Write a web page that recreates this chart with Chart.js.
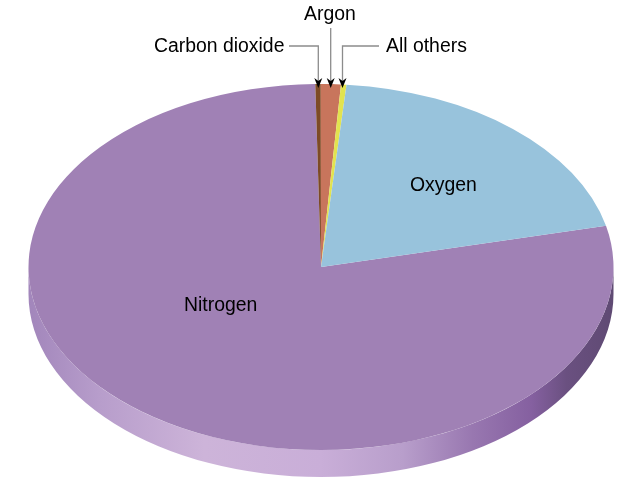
<!DOCTYPE html>
<html>
<head>
<meta charset="utf-8">
<style>
  html, body { margin: 0; padding: 0; background: #fff; }
  canvas { display: block; }
</style>
<script src="https://cdn.jsdelivr.net/npm/chart.js@4/dist/chart.umd.min.js"></script>
</head>
<body>
<canvas id="mycanvas" width="640" height="480"></canvas>
<script>
var categories = ['Nitrogen', 'Carbon dioxide', 'Argon', 'All others', 'Oxygen'];
var shares = [78.3, 0.3, 1.1, 0.3, 20.0];
var colors = ['#a081b5', '#7d4b25', '#c8755c', '#e2e34f', '#98c3dc'];

// the pie is squashed into an ellipse and given a rim
var cx = 321, cy = 267, rx = 292.5, ry = 183, depth = 27;

function drawRim(ctx) {
  var g = ctx.createLinearGradient(cx - rx, 0, cx + rx, 0);
  g.addColorStop(0, '#a286bb');
  g.addColorStop(0.12, '#b79dcb');
  g.addColorStop(0.3, '#cdb4d9');
  g.addColorStop(0.5, '#c9aed8');
  g.addColorStop(0.64, '#b89ecb');
  g.addColorStop(0.76, '#9877b0');
  g.addColorStop(0.86, '#8560a0');
  g.addColorStop(0.92, '#6a5080');
  g.addColorStop(1, '#5f4a73');
  ctx.beginPath();
  ctx.ellipse(cx, cy + depth, rx, ry, 0, 0, Math.PI);
  ctx.lineTo(cx - rx, cy);
  ctx.ellipse(cx, cy, rx, ry, 0, Math.PI, 0, true);
  ctx.closePath();
  ctx.fillStyle = g;
  ctx.fill();
}

function arrow(ctx, x, tip) {
  ctx.beginPath();
  ctx.moveTo(x, tip);
  ctx.lineTo(x - 4, tip - 10);
  ctx.lineTo(x, tip - 7);
  ctx.lineTo(x + 4, tip - 10);
  ctx.closePath();
  ctx.fillStyle = '#000';
  ctx.fill();
}

function leader(ctx, pts) {
  ctx.beginPath();
  pts.forEach(function(p, i) {
    if (i == 0) ctx.moveTo(p[0], p[1]); else ctx.lineTo(p[0], p[1]);
  });
  ctx.strokeStyle = '#8c8c8c';
  ctx.lineWidth = 1.3;
  ctx.stroke();
  var last = pts[pts.length - 1];
  arrow(ctx, last[0], last[1] + 4);
}

var pie3d = {
  id: 'pie3d',
  beforeDatasetsDraw: function(chart) {
    var ctx = chart.ctx;
    var arc = chart.getDatasetMeta(0).data[0];
    drawRim(ctx);
    ctx.save();
    ctx.translate(cx, cy);
    ctx.scale(rx / arc.outerRadius, ry / arc.outerRadius);
    ctx.translate(-arc.x, -arc.y);
  },
  afterDatasetsDraw: function(chart) {
    var ctx = chart.ctx;
    ctx.restore();

    leader(ctx, [[289, 46], [318.3, 46], [318.3, 84]]);
    leader(ctx, [[330.7, 28], [330.7, 84]]);
    leader(ctx, [[379, 46], [342.5, 46], [342.5, 84]]);

    ctx.fillStyle = '#000';
    ctx.font = '19.4px "Liberation Sans"';
    ctx.textBaseline = 'alphabetic';
    ctx.textAlign = 'left';
    ctx.fillText(categories[0], 184, 311);
    ctx.fillText(categories[1], 154, 52);
    ctx.fillText(categories[2], 304, 20);
    ctx.fillText(categories[3], 386, 52);
    ctx.fillText(categories[4], 410, 191);
  }
};

var barGraph = new Chart(document.getElementById('mycanvas'), {
  type: 'pie',
  data: {
    labels: categories,
    datasets: [{
      data: shares,
      backgroundColor: colors,
      borderWidth: 0,
      clip: false
    }]
  },
  options: {
    responsive: false,
    animation: false,
    rotation: 77,
    layout: { padding: 0 },
    plugins: { legend: { display: false }, tooltip: { enabled: false } }
  },
  plugins: [pie3d]
});
</script>
</body>
</html>
